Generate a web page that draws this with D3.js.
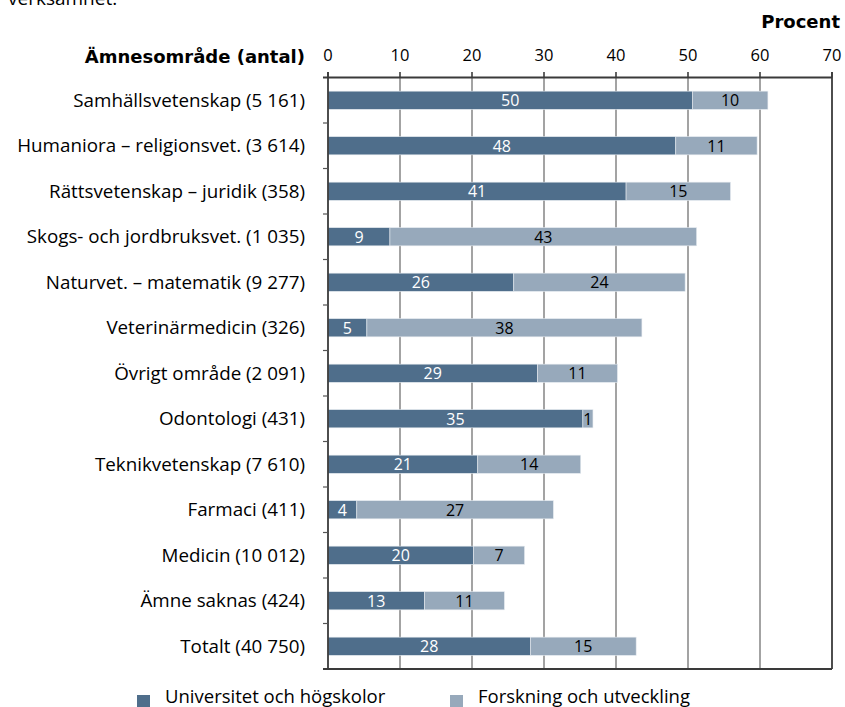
<!DOCTYPE html>
<html><head><meta charset="utf-8">
<script src="https://cdn.jsdelivr.net/npm/d3@7"></script>
<style>body{margin:0;background:#fff}svg{display:block;font-family:"Open Sans",Lato,sans-serif}</style>
</head><body>
<svg id="c" width="845" height="707"></svg>
<script>
const categories = ["Samhällsvetenskap (5 161)","Humaniora – religionsvet. (3 614)","Rättsvetenskap – juridik (358)","Skogs- och jordbruksvet. (1 035)","Naturvet. – matematik (9 277)","Veterinärmedicin (326)","Övrigt område (2 091)","Odontologi (431)","Teknikvetenskap (7 610)","Farmaci (411)","Medicin (10 012)","Ämne saknas (424)","Totalt (40 750)"];
const universitet = [50.6,48.3,41.4,8.6,25.8,5.4,29.1,35.4,20.8,4.0,20.2,13.4,28.1];
const forskning   = [10.5,11.3,14.5,42.6,23.8,38.2,11.1,1.4,14.3,27.3,7.1,11.1,14.7];
const uniLabels   = ["50","48","41","9","26","5","29","35","21","4","20","13","28"];
const fouLabels   = ["10","11","15","43","24","38","11","1","14","27","7","11","15"];
const ticks = [0,10,20,30,40,50,60,70];
const seriesNames = ["Universitet och högskolor","Forskning och utveckling"];
const colors = ["#4f6e8b","#97a9bb"];

const svg = d3.select("#c");
const x = d3.scaleLinear().domain([0,70]).range([328,832]);
const y = d3.scaleBand().domain(categories).range([77.5,669]).paddingInner(0.6).paddingOuter(0.3);
const x0 = x(0), xR = x(70);

// gridlines
svg.append("g").selectAll("line").data(ticks.slice(1,-1)).join("line")
  .attr("x1",d=>x(d)).attr("x2",d=>x(d)).attr("y1",72).attr("y2",669)
  .attr("stroke","#8c8c8c").attr("stroke-width",1.6);

// bars
const rows = categories.map((c,i)=>({c,u:universitet[i],f:forskning[i],ul:uniLabels[i],fl:fouLabels[i]}));
const g = svg.append("g");
g.selectAll("rect.u").data(rows).join("rect").attr("class","u")
  .attr("x",x0).attr("y",d=>y(d.c)).attr("width",d=>x(d.u)-x0).attr("height",y.bandwidth())
  .attr("fill",colors[0]).attr("stroke","#e6ebf0").attr("stroke-width",0.6);
g.selectAll("rect.f").data(rows).join("rect").attr("class","f")
  .attr("x",d=>x(d.u)).attr("y",d=>y(d.c)).attr("width",d=>x(d.u+d.f)-x(d.u)).attr("height",y.bandwidth())
  .attr("fill",colors[1]).attr("stroke","#e6ebf0").attr("stroke-width",0.6);
g.selectAll("text.u").data(rows).join("text").attr("class","u")
  .attr("x",d=>(x0+x(d.u))/2).attr("y",d=>y(d.c)+y.bandwidth()/2).attr("dy","0.36em")
  .attr("text-anchor","middle").attr("fill","#fff").attr("font-size",16).text(d=>d.ul);
g.selectAll("text.f").data(rows).join("text").attr("class","f")
  .attr("x",d=>(x(d.u)+x(d.u+d.f))/2).attr("y",d=>y(d.c)+y.bandwidth()/2).attr("dy","0.36em")
  .attr("text-anchor","middle").attr("fill","#000").attr("font-size",16).text(d=>d.fl);

// axes frame
const ax = svg.append("g").attr("stroke","#3a3a3a").attr("stroke-width",1.8);
ax.append("line").attr("x1",323).attr("x2",xR).attr("y1",77.5).attr("y2",77.5);
ax.append("line").attr("x1",323).attr("x2",xR).attr("y1",669).attr("y2",669);
ax.append("line").attr("x1",x0).attr("x2",x0).attr("y1",72).attr("y2",669);
ax.append("line").attr("x1",xR).attr("x2",xR).attr("y1",72).attr("y2",669);
ax.selectAll("line.t").data(ticks).join("line").attr("class","t")
  .attr("x1",d=>x(d)).attr("x2",d=>x(d)).attr("y1",72).attr("y2",77.5).attr("stroke-width",1.2);
const bounds = categories.map(c=>y(c)-y.step()*y.paddingInner()/2).slice(1);
ax.selectAll("line.l").data(bounds).join("line").attr("class","l")
  .attr("x1",323).attr("x2",x0).attr("y1",d=>d).attr("y2",d=>d).attr("stroke-width",1.2).attr("stroke","#555");

// tick labels
svg.append("g").selectAll("text").data(ticks).join("text")
  .attr("x",d=>x(d)).attr("y",61).attr("text-anchor","middle").attr("font-size",16.5).attr("fill","#000").text(d=>d);

// category labels
svg.append("g").selectAll("text").data(categories).join("text")
  .attr("x",305).attr("y",c=>y(c)+y.bandwidth()/2).attr("dy","0.35em")
  .attr("text-anchor","end").attr("font-size",18.8).attr("fill","#000").text(c=>c);

// titles
svg.append("text").attr("x",305).attr("y",63).attr("text-anchor","end").attr("font-family","'DejaVu Sans'").attr("font-weight","bold").attr("font-size",18).text("Ämnesområde (antal)");
svg.append("text").attr("x",840).attr("y",28).attr("text-anchor","end").attr("font-family","'DejaVu Sans'").attr("font-weight","bold").attr("font-size",18).text("Procent");
svg.append("text").attr("x",8).attr("y",5).attr("font-size",19).text("verksamhet.");

// legend
const leg = [{n:seriesNames[0],c:colors[0],x:137},{n:seriesNames[1],c:colors[1],x:450}];
const lg = svg.append("g").selectAll("g").data(leg).join("g");
lg.append("rect").attr("x",d=>d.x).attr("y",695).attr("width",13).attr("height",13).attr("fill",d=>d.c);
lg.append("text").attr("x",d=>d.x+28).attr("y",703).attr("font-size",18.5).text(d=>d.n);
</script>
</body></html>
